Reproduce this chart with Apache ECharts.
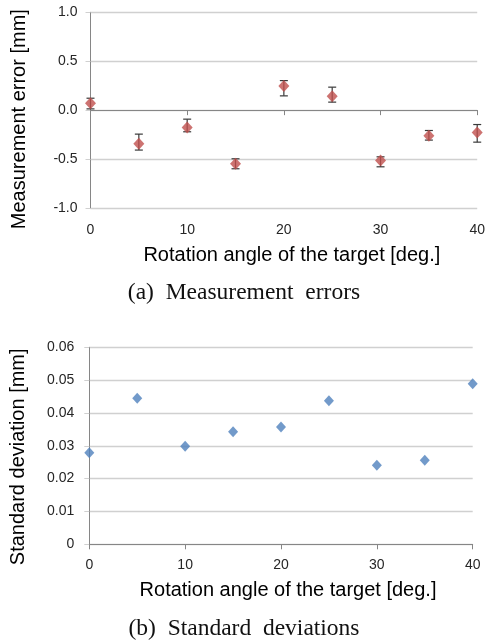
<!DOCTYPE html>
<html>
<head>
<meta charset="utf-8">
<script src="https://cdn.jsdelivr.net/npm/echarts@6/dist/echarts.min.js"></script>
<style>
  html, body { margin: 0; padding: 0; background: #fff; }
  #main { width: 488px; height: 643px; }
</style>
</head>
<body>
<div id="main"></div>
<script>
// data
const angles = [0, 5, 10, 15, 20, 25, 30, 35, 40];
const errMean = [0.071, -0.344, -0.177, -0.548, 0.248, 0.141, -0.514, -0.262, -0.228];
const errHigh = [0.122, -0.245, -0.092, -0.497, 0.302, 0.235, -0.477, -0.208, -0.147];
const errLow = [0.013, -0.408, -0.221, -0.599, 0.146, 0.082, -0.579, -0.306, -0.327];
const stdDev = [0.0279, 0.0445, 0.0299, 0.0343, 0.0357, 0.0437, 0.0241, 0.0256, 0.0489];

const axisGray = '#868686';
const gridGray = '#d0d0d0';
const txt = '#262626';
const sans = '"Liberation Sans", Arial, sans-serif';
const serif = '"Liberation Serif", "Times New Roman", serif';

const chart = echarts.init(document.getElementById('main'), null, { renderer: 'canvas' });

chart.setOption({
  animation: false,
  title: [
    { text: '(a)  Measurement  errors', left: 'center', top: 276,
      textStyle: { fontFamily: serif, fontSize: 23.5, fontWeight: 'normal', color: '#111' } },
    { text: '(b)  Standard  deviations', left: 'center', top: 612,
      textStyle: { fontFamily: serif, fontSize: 23.5, fontWeight: 'normal', color: '#111' } }
  ],
  grid: [
    { left: 90.5, right: 9.3, top: 12.3, height: 195.7 },
    { left: 89.3, right: 15.3, top: 347.3, height: 197 }
  ],
  xAxis: [
    { // axis line crossing at zero, ticks only
      gridIndex: 0, type: 'value', min: 0, max: 40, interval: 10, position: 'top',
      axisLine: { onZero: true, lineStyle: { color: axisGray } },
      axisTick: { show: true, inside: true, length: 5, lineStyle: { color: axisGray } },
      axisLabel: { show: false }, splitLine: { show: false }
    },
    { // labels + title at the bottom
      gridIndex: 0, type: 'value', min: 0, max: 40, interval: 10, position: 'bottom',
      axisLine: { show: false, onZero: false }, axisTick: { show: false },
      axisLabel: { margin: 15, fontFamily: sans, fontSize: 14, color: txt },
      splitLine: { show: false },
      name: 'Rotation angle of the target [deg.]', nameLocation: 'middle', nameGap: 37,
      nameTextStyle: { fontFamily: sans, fontSize: 20, color: '#000', padding: [0, 0, 0, 16] }
    },
    {
      gridIndex: 1, type: 'value', min: 0, max: 40, interval: 10,
      axisLine: { lineStyle: { color: axisGray } },
      axisTick: { length: 5, lineStyle: { color: axisGray } },
      axisLabel: { margin: 14, fontFamily: sans, fontSize: 14, color: txt },
      splitLine: { show: false },
      name: 'Rotation angle of the target [deg.]', nameLocation: 'middle', nameGap: 36,
      nameTextStyle: { fontFamily: sans, fontSize: 20, color: '#000', padding: [0, 0, 0, 14] }
    }
  ],
  yAxis: [
    {
      gridIndex: 0, type: 'value', min: -1, max: 1, interval: 0.5,
      axisLine: { show: true, lineStyle: { color: axisGray } },
      axisTick: { show: true, length: 5, lineStyle: { color: gridGray } },
      axisLabel: { margin: 13, fontFamily: sans, fontSize: 14, color: txt,
        formatter: v => v.toFixed(1) },
      splitLine: { lineStyle: { color: gridGray, width: 1.3 } },
      name: 'Measurement error [mm]', nameLocation: 'middle', nameGap: 61,
      nameTextStyle: { fontFamily: sans, fontSize: 20, color: '#000', padding: [0, 18, 0, 0] }
    },
    {
      gridIndex: 1, type: 'value', min: 0, max: 0.06, interval: 0.01,
      axisLine: { show: true, lineStyle: { color: axisGray } },
      axisTick: { show: true, length: 5, lineStyle: { color: gridGray } },
      axisLabel: { margin: 15, fontFamily: sans, fontSize: 14, color: txt,
        formatter: v => (v === 0 ? '0' : v.toFixed(2)) },
      splitLine: { lineStyle: { color: gridGray, width: 1.3 } },
      name: 'Standard deviation [mm]', nameLocation: 'middle', nameGap: 61,
      nameTextStyle: { fontFamily: sans, fontSize: 20, color: '#000', padding: [0, 22, 0, 0] }
    }
  ],
  series: [
    {
      type: 'custom', xAxisIndex: 1, yAxisIndex: 0, z: 3,
      data: angles.map((a, i) => [a, errLow[i], errHigh[i]]),
      encode: { x: 0, y: [1, 2] },
      renderItem: function (params, api) {
        const lo = api.coord([api.value(0), api.value(1)]);
        const hi = api.coord([api.value(0), api.value(2)]);
        const w = 4;
        const st = { stroke: '#3a3a3a', lineWidth: 1.2 };
        return {
          type: 'group',
          children: [
            { type: 'line', shape: { x1: lo[0], y1: lo[1], x2: hi[0], y2: hi[1] }, style: st },
            { type: 'line', shape: { x1: lo[0] - w, y1: lo[1], x2: lo[0] + w, y2: lo[1] }, style: st },
            { type: 'line', shape: { x1: hi[0] - w, y1: hi[1], x2: hi[0] + w, y2: hi[1] }, style: st }
          ]
        };
      }
    },
    {
      type: 'scatter', xAxisIndex: 1, yAxisIndex: 0, z: 5,
      symbol: 'diamond', symbolSize: [11, 12],
      itemStyle: { color: '#c0504d' },
      data: angles.map((a, i) => [a, errMean[i]])
    },
    {
      type: 'scatter', xAxisIndex: 2, yAxisIndex: 1, z: 5,
      symbol: 'diamond', symbolSize: [10, 11],
      itemStyle: { color: '#4f81bd' },
      data: angles.map((a, i) => [a, stdDev[i]])
    }
  ]
});
</script>
</body>
</html>
